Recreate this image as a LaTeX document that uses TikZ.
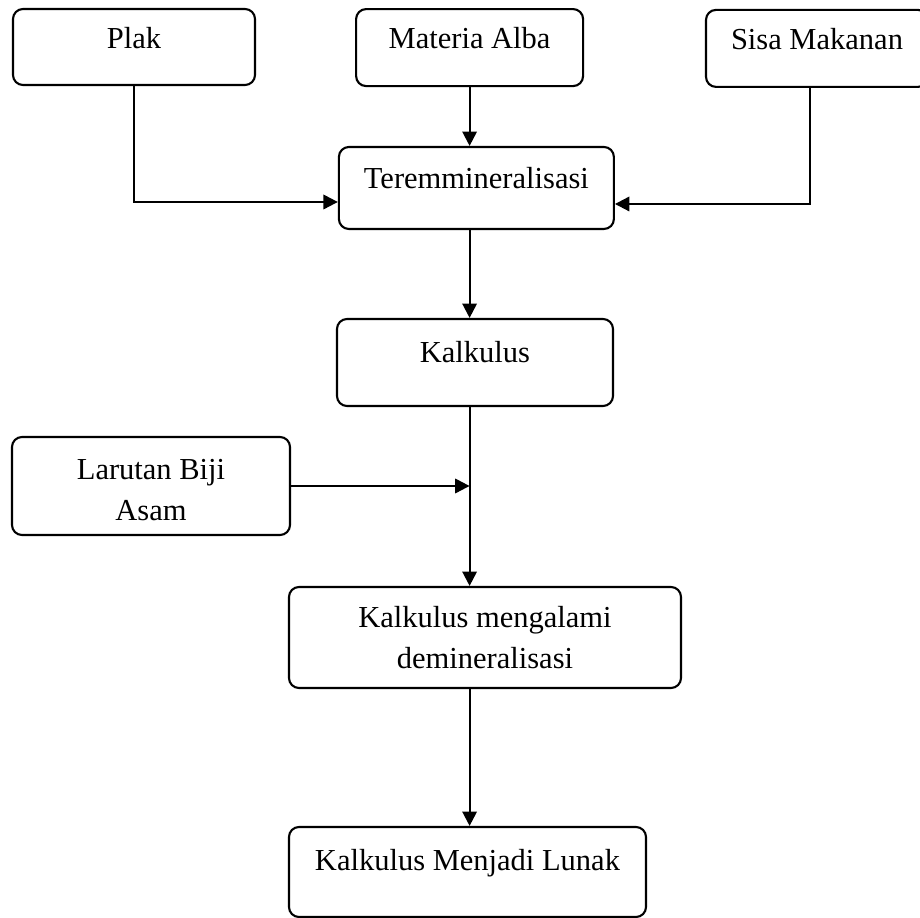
\documentclass[tikz,border=0pt]{standalone}
\usepackage{fontspec}
\setmainfont{Liberation Serif}
\usepackage{xcolor}
\usepackage{tikz}
\usetikzlibrary{arrows.meta}

\begin{document}
\begin{tikzpicture}[>={Triangle[length=3.6mm,width=3.6mm]}, line width=1.5pt,
    kotak/.style={draw, rounded corners=2.5mm, align=center, inner sep=0pt,
        font=\fontsize{21.7}{28}\selectfont, text height=0.7em, text depth=0.5em},
    kotak2/.style={draw, rounded corners=2.5mm, align=center, inner sep=0pt,
        font=\fontsize{21.7}{29}\selectfont}]
    \clip (0,0) rectangle (23,22.95);
    % baris atas
    \node[kotak, minimum width=6.05cm, minimum height=1.9cm] (plak) at (3.35,21.775) {Plak};
    \node[kotak, minimum width=5.675cm, minimum height=1.925cm] (materia) at (11.74,21.76) {Materia Alba};
    \node[kotak, minimum width=5.55cm, minimum height=1.925cm] (sisa) at (20.425,21.74) {Sisa Makanan};
    % proses
    \node[kotak, text depth=0.61em, minimum width=6.875cm, minimum height=2.05cm] (terem) at (11.91,18.25) {Teremmineralisasi};
    \node[kotak, text depth=0.76em, minimum width=6.9cm, minimum height=2.175cm] (kalkulus) at (11.875,13.8875) {Kalkulus};
    \node[kotak2, minimum width=6.95cm, minimum height=2.45cm] (larutan) at (3.775,10.8) {\rule{0pt}{0.95em}Larutan Biji\\Asam};
    \node[kotak2, minimum width=9.8cm, minimum height=2.525cm] (demin) at (12.125,7.0125) {Kalkulus mengalami\\demineralisasi};
    \node[kotak, text depth=0.86em, minimum width=8.925cm, minimum height=2.25cm] (lunak) at (11.6875,1.15) {Kalkulus Menjadi Lunak};

    \draw[->] (plak.south) |- ([yshift=-3.5mm]terem.west);
    \draw[->] (materia.south) -- (materia.south |- terem.north);
    \draw[->] ([xshift=-1.8mm]sisa.south) |- ([yshift=-4mm]terem.east);
    \draw[->] (materia.south |- terem.south) -- (materia.south |- kalkulus.north);
    \draw[->] (materia.south |- kalkulus.south) -- (materia.south |- demin.north);
    \draw[->] (larutan.east) -- (larutan.east -| materia.south);
    \draw[->] (materia.south |- demin.south) -- (materia.south |- lunak.north);
\end{tikzpicture}
\end{document}
